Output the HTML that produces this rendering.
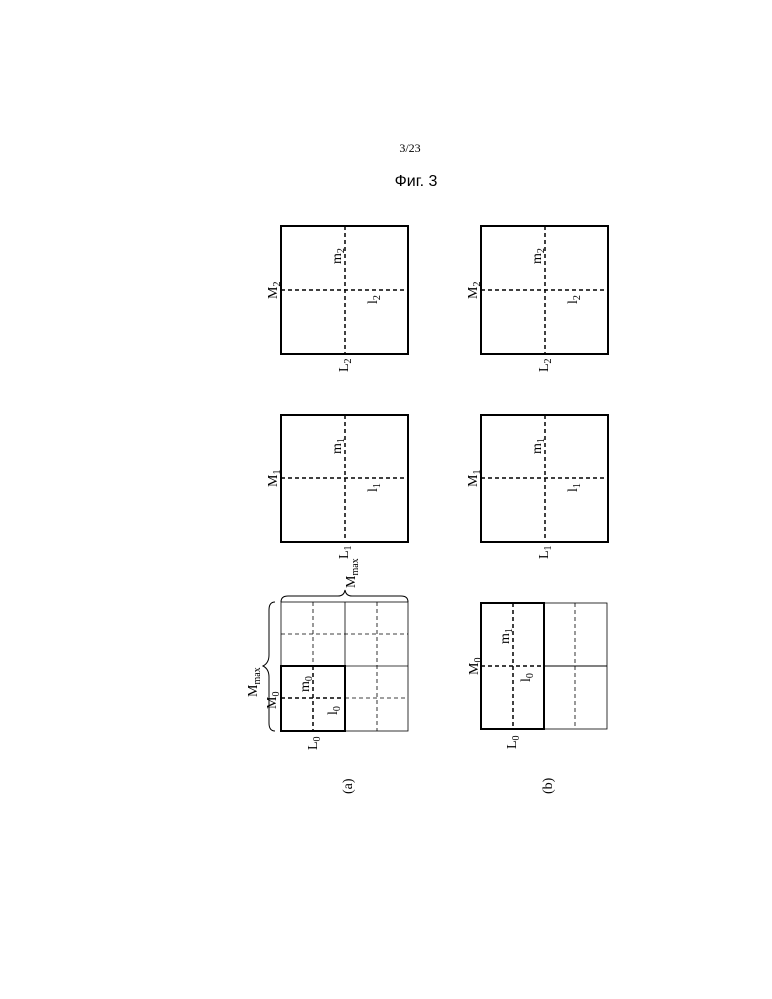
<!DOCTYPE html>
<html><head><meta charset="utf-8"><style>body{margin:0;background:#fff}svg{display:block}</style></head><body>
<svg width="772" height="999" viewBox="0 0 772 999" xmlns="http://www.w3.org/2000/svg" font-family="Liberation Serif, serif">
<text x="410" y="152" font-size="12" text-anchor="middle">3/23</text>
<text x="416" y="186" font-size="16" font-family="Liberation Sans, sans-serif" text-anchor="middle">Фиг. 3</text>
<g fill="none" stroke="#000">
<rect x="281" y="226" width="127" height="128" stroke-width="2"/>
<rect x="481" y="226" width="127" height="128" stroke-width="2"/>
<rect x="281" y="415" width="127" height="127" stroke-width="2"/>
<rect x="481" y="415" width="127" height="127" stroke-width="2"/>
<g stroke-dasharray="4,3" stroke-width="1.5">
<line x1="345" y1="226" x2="345" y2="354"/><line x1="281" y1="290" x2="408" y2="290"/>
<line x1="545" y1="226" x2="545" y2="354"/><line x1="481" y1="290" x2="608" y2="290"/>
<line x1="345" y1="415" x2="345" y2="542"/><line x1="281" y1="478" x2="408" y2="478"/>
<line x1="545" y1="415" x2="545" y2="542"/><line x1="481" y1="478" x2="608" y2="478"/>
</g>
<rect x="281" y="602" width="127" height="129" stroke-width="0.8"/>
<line x1="345" y1="602" x2="345" y2="731" stroke-width="0.8"/>
<line x1="281" y1="666" x2="408" y2="666" stroke-width="0.8"/>
<g stroke-dasharray="4,3" stroke-width="0.8">
<line x1="313" y1="602" x2="313" y2="666"/><line x1="377" y1="602" x2="377" y2="731"/>
<line x1="281" y1="634" x2="408" y2="634"/><line x1="345" y1="698" x2="408" y2="698"/>
</g>
<g stroke-dasharray="4,3" stroke-width="1.5">
<line x1="313" y1="666" x2="313" y2="731"/><line x1="281" y1="698" x2="345" y2="698"/>
</g>
<rect x="281" y="666" width="64" height="65" stroke-width="2"/>
<path d="M281 602 Q281 596 288 596 L338 596 Q344 596 345 590 Q346 596 352 596 L401 596 Q408 596 408 602" stroke-width="1"/>
<path d="M275 602 Q269 602 269 610 L269 655 Q269 663 263 666 Q269 669 269 677 L269 723 Q269 731 275 731" stroke-width="1"/>
<rect x="481" y="603" width="126" height="126" stroke-width="0.8"/>
<line x1="544" y1="666" x2="607" y2="666" stroke-width="1"/>
<line x1="575" y1="603" x2="575" y2="729" stroke-width="0.8" stroke-dasharray="4,3"/>
<g stroke-dasharray="4,3" stroke-width="1.5">
<line x1="513" y1="603" x2="513" y2="729"/><line x1="481" y1="666" x2="544" y2="666"/>
</g>
<rect x="481" y="603" width="63" height="126" stroke-width="2"/>
</g>
<g font-size="14" fill="#000">
<text transform="translate(277,299) rotate(-90)">M<tspan font-size="10" dy="3">2</tspan></text>
<text transform="translate(341,264) rotate(-90)">m<tspan font-size="10" dy="3">2</tspan></text>
<text transform="translate(377,304) rotate(-90)">l<tspan font-size="10" dy="3">2</tspan></text>
<text transform="translate(348,372) rotate(-90)">L<tspan font-size="10" dy="3">2</tspan></text>
<text transform="translate(477,299) rotate(-90)">M<tspan font-size="10" dy="3">2</tspan></text>
<text transform="translate(541,264) rotate(-90)">m<tspan font-size="10" dy="3">2</tspan></text>
<text transform="translate(577,304) rotate(-90)">l<tspan font-size="10" dy="3">2</tspan></text>
<text transform="translate(548,372) rotate(-90)">L<tspan font-size="10" dy="3">2</tspan></text>
<text transform="translate(277,487) rotate(-90)">M<tspan font-size="10" dy="3">1</tspan></text>
<text transform="translate(341,454) rotate(-90)">m<tspan font-size="10" dy="3">1</tspan></text>
<text transform="translate(377,492) rotate(-90)">l<tspan font-size="10" dy="3">1</tspan></text>
<text transform="translate(348,559) rotate(-90)">L<tspan font-size="10" dy="3">1</tspan></text>
<text transform="translate(477,487) rotate(-90)">M<tspan font-size="10" dy="3">1</tspan></text>
<text transform="translate(541,454) rotate(-90)">m<tspan font-size="10" dy="3">1</tspan></text>
<text transform="translate(577,492) rotate(-90)">l<tspan font-size="10" dy="3">1</tspan></text>
<text transform="translate(548,559) rotate(-90)">L<tspan font-size="10" dy="3">1</tspan></text>
<text transform="translate(355,588) rotate(-90)">M<tspan font-size="10" dy="3">max</tspan></text>
<text transform="translate(257,697) rotate(-90)">M<tspan font-size="10" dy="3">max</tspan></text>
<text transform="translate(276,709) rotate(-90)">M<tspan font-size="10" dy="3">0</tspan></text>
<text transform="translate(309,692) rotate(-90)">m<tspan font-size="10" dy="3">0</tspan></text>
<text transform="translate(337,715) rotate(-90)">l<tspan font-size="10" dy="3">0</tspan></text>
<text transform="translate(317,750) rotate(-90)">L<tspan font-size="10" dy="3">0</tspan></text>
<text transform="translate(478,675) rotate(-90)">M<tspan font-size="10" dy="3">0</tspan></text>
<text transform="translate(509,644) rotate(-90)">m<tspan font-size="10" dy="3">1</tspan></text>
<text transform="translate(530,682) rotate(-90)">l<tspan font-size="10" dy="3">0</tspan></text>
<text transform="translate(516,749) rotate(-90)">L<tspan font-size="10" dy="3">0</tspan></text>
<text transform="translate(352,794) rotate(-90)">(a)</text>
<text transform="translate(552,794) rotate(-90)">(b)</text>
</g>
</svg>
</body></html>
